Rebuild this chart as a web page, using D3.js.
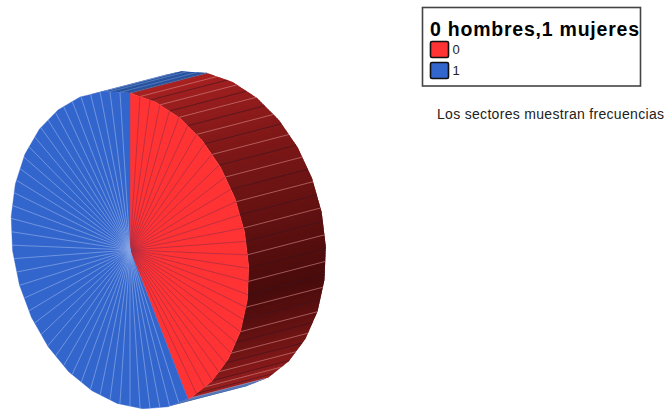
<!DOCTYPE html>
<html><head><meta charset="utf-8">
<script src="https://cdn.jsdelivr.net/npm/d3@7"></script>
<style>html,body{margin:0;padding:0;background:#fff}svg{display:block}</style>
</head><body><svg id="c" width="667" height="409"></svg>
<script>
const categories = ["0", "1"];
const frequencies = [31, 43];
const legendTitle = "0 hombres,1 mujeres";
const note = "Los sectores muestran frecuencias";
const faceColors = ["#ff3333", "#3366cc"];
const faceLineColors = ["#a82c44", "#86a5e6"];
const wallLineColors = [["#3a1420", "#d88888"], ["#6f8fd0", "#6f8fd0"]];

const svg = d3.select("#c");
const cx = 130, cy = 250, ax = 157, bx = 119, by = 25, dx = 77, dy = -20;
const step = 360 / 29;
const rad = d => d * Math.PI / 180;
const vertex = t => [cx + bx * Math.sin(rad(t)), cy - ax * Math.cos(rad(t)) + by * Math.sin(rad(t))];
const rim = t => {
  const k = Math.floor(t / step), f = t / step - k;
  return d3.interpolateArray(vertex(k * step), vertex((k + 1) * step))(f);
};
const pie = d3.pie().sort(null)(frequencies);
const toDeg = a => a * 180 / Math.PI;
const rimPath = (a, b) => {
  const pts = [rim(a)];
  for (let k = Math.ceil(a / step + 1e-6); k * step < b; k++) pts.push(vertex(k * step));
  pts.push(rim(b));
  return pts;
};
const visible = t => 0.231 * Math.cos(rad(t)) + 0.6525 * Math.sin(rad(t)) > 0;
const sideColor = [
  d3.scaleLinear().domain([0, 98, 151]).range(["#ab2222", "#480b0b", "#a02020"]),
  d3.scaleLinear().domain([151, 340, 360]).range(["#1f4a99", "#24509c", "#24509c"])
];
const line = d3.line();
const sideG = svg.append("g"), sideL = svg.append("g"), faceG = svg.append("g"), faceL = svg.append("g");

pie.forEach((p, i) => {
  const a0 = toDeg(p.startAngle), a1 = toDeg(p.endAngle), n = frequencies[i];
  const boundaries = d3.range(n + 1).map(d3.scaleLinear().domain([0, n]).range([a0, a1]));
  // extruded wall, shaded by direction of the rim; strips overlap to hide seams
  d3.range(Math.floor(a0), Math.ceil(a1)).forEach(d => {
    const s = Math.max(d, a0), e = Math.min(d + 1, a1);
    if (!visible((s + e) / 2)) return;
    const pts = rimPath(s, Math.min(e + 0.8, a1));
    const back = pts.map(q => [q[0] + dx, q[1] + dy]).reverse();
    sideG.append("path").attr("d", line(pts.concat(back)) + "Z").attr("fill", sideColor[i]((s + e) / 2));
  });
  boundaries.forEach((t, j) => {
    const q = rim(t % 360);
    if (visible(t)) sideL.append("line").attr("x1", q[0]).attr("y1", q[1]).attr("x2", q[0] + dx).attr("y2", q[1] + dy)
      .attr("stroke", wallLineColors[i][j % 2]).attr("stroke-opacity", 0.75).attr("stroke-width", 0.8);
  });
  // front face
  faceG.append("path").attr("d", line([[cx, cy]].concat(rimPath(a0, a1 - 1e-6))) + "Z")
    .attr("fill", faceColors[i]).attr("stroke", faceColors[i]).attr("stroke-width", 0.4);
  boundaries.slice(1, -1).forEach(t => {
    const q = rim(t);
    faceL.append("line").attr("x1", cx).attr("y1", cy).attr("x2", q[0]).attr("y2", q[1])
      .attr("stroke", faceLineColors[i]).attr("stroke-opacity", 0.9).attr("stroke-width", 0.8);
  });
});

// legend
const font = "'Liberation Sans', Arial, sans-serif";
svg.append("rect").attr("x", 422.5).attr("y", 7.5).attr("width", 218).attr("height", 78.5)
  .attr("fill", "#fff").attr("stroke", "#444").attr("stroke-width", 1.6);
svg.append("text").attr("x", 430).attr("y", 36).attr("font-family", font).attr("font-weight", "bold")
  .attr("font-size", 19.5).attr("textLength", 209).attr("fill", "#000").text(legendTitle);
const rowY = d3.scalePoint().domain(categories).range([50, 71]);
categories.forEach((c, i) => {
  svg.append("rect").attr("x", 430.5).attr("y", rowY(c) - 8.5).attr("width", 18).attr("height", 16).attr("rx", 1.5)
    .attr("fill", faceColors[i]).attr("stroke", "#111").attr("stroke-width", 1.6);
  svg.append("text").attr("x", 452.5).attr("y", rowY(c) + 4).attr("font-family", font).attr("font-size", 13)
    .attr("fill", "#222").text(c);
});
svg.append("text").attr("x", 437).attr("y", 119).attr("font-family", font).attr("font-size", 14)
  .attr("textLength", 227).attr("fill", "#222").text(note);
</script></body></html>
